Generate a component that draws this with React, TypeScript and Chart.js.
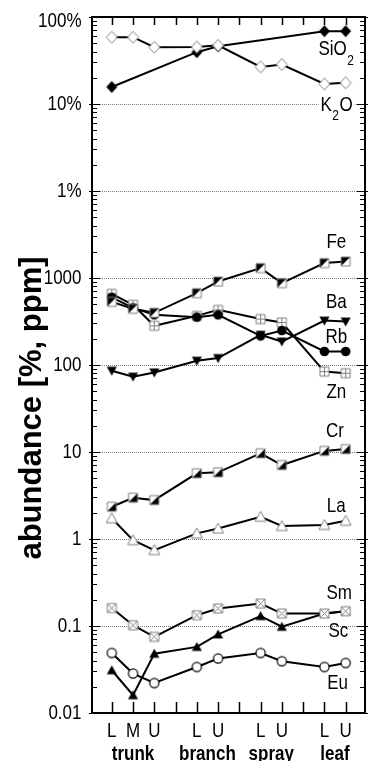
import React, { useEffect, useRef } from "react";
import { Chart, registerables } from "chart.js";
Chart.register(...registerables);

// x positions of the sampled parts and their labels
const positions = [1, 2, 3, 5, 6, 8, 9, 11, 12];
const partLabels = ["L", "M", "U", "L", "U", "L", "U", "L", "U"];
const groups = ["trunk", "branch", "spray", "leaf"];
const groupCenters = [2, 5.5, 8.5, 11.5];
const xTickMarks = [1, 2, 3, 4, 5, 6, 7, 8, 9, 10, 11, 12];

// y axis (ppm; 1% = 10000 ppm)
const yTicks = [0.01, 0.1, 1, 10, 100, 1000, 1e4, 1e5, 1e6];
const yTickLabels = ["0.01", "0.1", "1", "10", "100", "1000", "1%", "10%", "100%"];
const PCT = 1e4;

// major oxides in %
const SiO2pct: (number | null)[] = [15.7, null, null, 39.4, 46.1, null, null, 68.7, 68.7];
const K2Opct = [58.6, 58.6, 44.9, 45.2, 47.3, 26.7, 28.4, 17.0, 17.5];
// elements in ppm
const Fe = [532, 443, 398, 670, 912, 1300, 873, 1484, 1549];
const Rb = [600, 454, 377, 355, 377, 216, 249, 143, 143];
const Zn = [658, 492, 282, 367, 430, 337, 308, 84, 80.5];
const Ba = [86, 73.5, 82, 112, 120, 222, 186, 324, 316];
const Cr = [2.35, 2.98, 2.8, 5.69, 5.84, 9.66, 7.08, 10.3, 10.8];
const La = [1.73, 0.97, 0.745, 1.16, 1.32, 1.8, 1.41, 1.45, 1.62];
const Sm = [0.161, 0.102, 0.075, 0.133, 0.159, 0.181, 0.139, 0.139, 0.148];
const Sc = [0.031, 0.016, 0.048, 0.0575, 0.08, 0.13, 0.098, 0.139, 0.148];
const Eu = [0.049, 0.0284, 0.0221, 0.0338, 0.0423, 0.049, 0.0394, 0.0338, 0.0376];

// series annotations: name, subscript, trailing text, anchor (data units)
const annotations = [
  { main: "SiO", sub: "2", tail: "", x: 11.57, y: 4.2e5, bg: false },
  { main: "K", sub: "2", tail: "O", x: 11.57, y: 9.7e4, bg: true },
  { main: "Fe", sub: "", tail: "", x: 11.56, y: 2576, bg: false },
  { main: "Ba", sub: "", tail: "", x: 11.56, y: 519, bg: false },
  { main: "Rb", sub: "", tail: "", x: 11.56, y: 210, bg: false },
  { main: "Zn", sub: "", tail: "", x: 11.56, y: 49, bg: false },
  { main: "Cr", sub: "", tail: "", x: 11.5, y: 17.1, bg: false },
  { main: "La", sub: "", tail: "", x: 11.56, y: 2.39, bg: false },
  { main: "Sm", sub: "", tail: "", x: 11.7, y: 0.237, bg: false },
  { main: "Sc", sub: "", tail: "", x: 11.66, y: 0.0859, bg: false },
  { main: "Eu", sub: "", tail: "", x: 11.62, y: 0.022, bg: false },
];

const FONT = "Liberation Sans, Arial, sans-serif";
const GRAY = "#808080";

function makeMarker(kind: string): HTMLCanvasElement {
  const s = 15;
  const c = document.createElement("canvas");
  c.width = s;
  c.height = s;
  const g = c.getContext("2d")!;
  const m = s / 2;
  g.lineWidth = 1;
  const poly = (pts: number[][]) => {
    g.beginPath();
    g.moveTo(pts[0][0], pts[0][1]);
    for (let i = 1; i < pts.length; i++) g.lineTo(pts[i][0], pts[i][1]);
    g.closePath();
  };
  const sq = (h: number) => [
    [m - h, m - h],
    [m + h, m - h],
    [m + h, m + h],
    [m - h, m + h],
  ];
  switch (kind) {
    case "diamondFilled":
      poly([[m, m - 6], [m + 5.5, m], [m, m + 6], [m - 5.5, m]]);
      g.fillStyle = "#000";
      g.fill();
      break;
    case "diamondOpen":
      poly([[m, m - 6], [m + 5.5, m], [m, m + 6], [m - 5.5, m]]);
      g.fillStyle = "#fff";
      g.fill();
      g.strokeStyle = GRAY;
      g.stroke();
      break;
    case "halfUL":
    case "halfLR": {
      const h = 4.5;
      poly(sq(h));
      g.fillStyle = "#fff";
      g.fill();
      if (kind === "halfUL") poly([[m - h, m - h], [m + h, m - h], [m - h, m + h]]);
      else poly([[m + h, m - h], [m + h, m + h], [m - h, m + h]]);
      g.fillStyle = "#000";
      g.fill();
      poly(sq(h));
      g.strokeStyle = GRAY;
      g.stroke();
      break;
    }
    case "squarePlus":
    case "squareX": {
      const h = 4.5;
      poly(sq(h));
      g.fillStyle = "#fff";
      g.fill();
      g.strokeStyle = GRAY;
      g.stroke();
      g.beginPath();
      if (kind === "squarePlus") {
        g.moveTo(m, m - h);
        g.lineTo(m, m + h);
        g.moveTo(m - h, m);
        g.lineTo(m + h, m);
      } else {
        g.moveTo(m - h, m - h);
        g.lineTo(m + h, m + h);
        g.moveTo(m + h, m - h);
        g.lineTo(m - h, m + h);
      }
      g.stroke();
      break;
    }
    case "circleFilled":
      g.beginPath();
      g.arc(m, m, 4.8, 0, Math.PI * 2);
      g.fillStyle = "#000";
      g.fill();
      break;
    case "circleOpen":
      g.beginPath();
      g.arc(m, m, 4.6, 0, Math.PI * 2);
      g.fillStyle = "#fff";
      g.fill();
      g.lineWidth = 1.2;
      g.strokeStyle = "#000";
      g.stroke();
      break;
    case "triUpFilled":
      poly([[m, m - 5], [m + 5, m + 4], [m - 5, m + 4]]);
      g.fillStyle = "#000";
      g.fill();
      break;
    case "triUpOpen":
      poly([[m, m - 5.5], [m + 5.5, m + 4.5], [m - 5.5, m + 4.5]]);
      g.fillStyle = "#fff";
      g.fill();
      g.strokeStyle = GRAY;
      g.stroke();
      break;
    case "triDownFilled":
      poly([[m - 5, m - 4], [m + 5, m - 4], [m, m + 5]]);
      g.fillStyle = "#000";
      g.fill();
      break;
  }
  return c;
}

function drawStretched(
  ctx: CanvasRenderingContext2D,
  text: string,
  x: number,
  y: number,
  font: string,
  align: CanvasTextAlign,
  baseline: CanvasTextBaseline,
  sy = 1.2
) {
  ctx.save();
  ctx.font = font;
  ctx.textAlign = align;
  ctx.textBaseline = baseline;
  ctx.fillStyle = "#000";
  ctx.translate(x, y);
  ctx.scale(1, sy);
  ctx.fillText(text, 0, 0);
  ctx.restore();
}

const framePlugin = {
  id: "frame",
  beforeDatasetsDraw(chart: any) {
    const { ctx, chartArea: a, scales } = chart;
    const y = scales.y;
    ctx.save();
    ctx.strokeStyle = "#7a7a7a";
    ctx.lineWidth = 1;
    ctx.setLineDash([1, 1]);
    for (const v of yTicks) {
      if (v <= yTicks[0] || v >= yTicks[yTicks.length - 1]) continue;
      const py = Math.round(y.getPixelForValue(v)) + 0.5;
      ctx.beginPath();
      ctx.moveTo(a.left, py);
      ctx.lineTo(a.right, py);
      ctx.stroke();
    }
    ctx.restore();
  },
  afterDatasetsDraw(chart: any) {
    const { ctx, scales } = chart;
    const x = scales.x;
    const y = scales.y;
    ctx.save();
    for (const an of annotations) {
      const cx = x.getPixelForValue(an.x);
      const cy = y.getPixelForValue(an.y);
      const mainFont = `17px ${FONT}`;
      const subFont = `12px ${FONT}`;
      ctx.font = mainFont;
      const wMain = ctx.measureText(an.main).width;
      const wTail = an.tail ? ctx.measureText(an.tail).width : 0;
      ctx.font = subFont;
      const wSub = an.sub ? ctx.measureText(an.sub).width + 1 : 0;
      const total = wMain + wSub + wTail;
      let sx = cx - total / 2;
      if (an.bg) {
        ctx.fillStyle = "#fff";
        ctx.fillRect(sx - 2, cy - 9, total + 4, 18);
      }
      drawStretched(ctx, an.main, sx, cy, mainFont, "left", "middle");
      sx += wMain;
      if (an.sub) {
        drawStretched(ctx, an.sub, sx + 0.5, cy + 11, subFont, "left", "middle");
        sx += wSub;
      }
      if (an.tail) drawStretched(ctx, an.tail, sx, cy, mainFont, "left", "middle");
    }
    ctx.restore();
  },
  afterDraw(chart: any) {
    const { ctx, chartArea: a, scales } = chart;
    const x = scales.x;
    const y = scales.y;
    ctx.save();
    ctx.strokeStyle = "#000";
    ctx.lineWidth = 1.5;
    for (const t of xTickMarks) {
      const px = Math.round(x.getPixelForValue(t)) + 0.5;
      ctx.beginPath();
      ctx.moveTo(px, a.top);
      ctx.lineTo(px, a.top + 8);
      ctx.moveTo(px, a.bottom);
      ctx.lineTo(px, a.bottom - 11);
      ctx.stroke();
    }
    ctx.lineWidth = 1.2;
    for (let i = 0; i < yTicks.length; i++) {
      const d = yTicks[i];
      const py = Math.round(y.getPixelForValue(d)) + 0.5;
      ctx.beginPath();
      ctx.moveTo(a.left - 3, py);
      ctx.lineTo(a.left + 8, py);
      ctx.moveTo(a.right - 8, py);
      ctx.lineTo(a.right + 3, py);
      ctx.stroke();
      if (i === yTicks.length - 1) break;
      for (let k = 2; k <= 9; k++) {
        const pm = Math.round(y.getPixelForValue(d * k)) + 0.5;
        ctx.beginPath();
        ctx.moveTo(a.left, pm);
        ctx.lineTo(a.left + 5, pm);
        ctx.moveTo(a.right - 5, pm);
        ctx.lineTo(a.right, pm);
        ctx.stroke();
      }
    }
    ctx.lineWidth = 2;
    ctx.strokeRect(a.left, a.top, a.right - a.left, a.bottom - a.top);
    // y tick labels (top one kept inside the canvas margin)
    yTicks.forEach((v, i) => {
      const py = Math.max(y.getPixelForValue(v) + 0.5, a.top + 4.5);
      drawStretched(ctx, yTickLabels[i], a.left - 10.5, py, `17px ${FONT}`, "right", "middle");
    });
    positions.forEach((p, i) => {
      drawStretched(ctx, partLabels[i], x.getPixelForValue(p), a.bottom + 18, `17px ${FONT}`, "center", "middle");
    });
    groups.forEach((gname, i) => {
      drawStretched(ctx, gname, x.getPixelForValue(groupCenters[i]), 760, `bold 17px ${FONT}`, "center", "alphabetic");
    });
    ctx.save();
    ctx.translate(41, 408);
    ctx.rotate(-Math.PI / 2);
    ctx.font = `bold 31px ${FONT}`;
    ctx.textAlign = "center";
    ctx.textBaseline = "alphabetic";
    ctx.fillStyle = "#000";
    ctx.fillText("abundance [%, ppm]", 0, 0);
    ctx.restore();
    ctx.restore();
  },
};

export default function App() {
  const ref = useRef<HTMLCanvasElement>(null);
  useEffect(() => {
    const toPts = (arr: (number | null)[], scale = 1) =>
      positions.map((p, i) => ({ x: p, y: arr[i] == null ? null : (arr[i] as number) * scale }));
    const series: [string, (number | null)[], number, string][] = [
      ["K2O", K2Opct, PCT, "diamondOpen"],
      ["SiO2", SiO2pct, PCT, "diamondFilled"],
      ["Fe", Fe, 1, "halfUL"],
      ["Rb", Rb, 1, "circleFilled"],
      ["Zn", Zn, 1, "squarePlus"],
      ["Ba", Ba, 1, "triDownFilled"],
      ["Cr", Cr, 1, "halfLR"],
      ["La", La, 1, "triUpOpen"],
      ["Sm", Sm, 1, "squareX"],
      ["Sc", Sc, 1, "triUpFilled"],
      ["Eu", Eu, 1, "circleOpen"],
    ];
    const datasets = series.map(([label, arr, sc, kind]) => ({
      label,
      data: toPts(arr, sc),
      borderColor: "#000",
      borderWidth: 2,
      backgroundColor: "#000",
      pointStyle: makeMarker(kind),
      pointRadius: 5,
      tension: 0,
      spanGaps: true,
    }));
    const chart = new Chart(ref.current!, {
      type: "line",
      data: { datasets } as any,
      options: {
        animation: false,
        responsive: false,
        events: [],
        layout: { padding: { top: 17, right: 1, left: 0, bottom: 0 } },
        plugins: { legend: { display: false }, tooltip: { enabled: false } },
        scales: {
          x: {
            type: "linear",
            min: 0.07,
            max: 12.91,
            grid: { display: false },
            border: { display: false },
            ticks: { display: false },
            afterFit: (s: any) => {
              s.height = 48;
            },
          },
          y: {
            type: "logarithmic",
            min: 0.01,
            max: 1e6,
            grid: { display: false },
            border: { display: false },
            ticks: { display: false },
            afterFit: (s: any) => {
              s.width = 92;
            },
          },
        },
      } as any,
      plugins: [framePlugin],
    });
    return () => chart.destroy();
  }, []);
  return (
    <div style={{ position: "absolute", left: 0, top: 0, width: 372, height: 761, background: "#fff" }}>
      <canvas ref={ref} width={372} height={761} style={{ display: "block" }} />
    </div>
  );
}
